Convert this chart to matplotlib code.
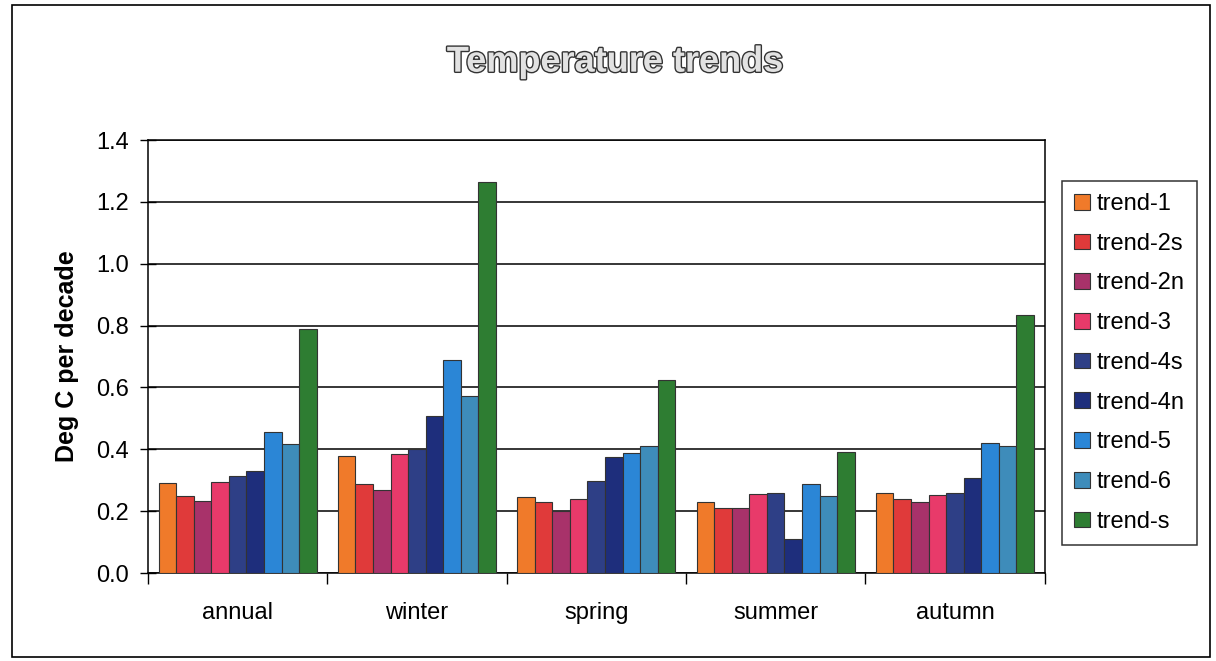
import matplotlib
matplotlib.use("Agg")
import matplotlib.pyplot as plt
import matplotlib.patheffects as pe
from matplotlib.patches import Rectangle
import numpy as np

plt.rcParams['font.family'] = ['Liberation Sans', 'DejaVu Sans']

seasons = ["annual", "winter", "spring", "summer", "autumn"]
trends = ["trend-1", "trend-2s", "trend-2n", "trend-3", "trend-4s",
          "trend-4n", "trend-5", "trend-6", "trend-s"]
colors = ["#F07A2A", "#E03A3A", "#A8326A", "#E83A6A", "#2E3F86",
          "#1E2E7C", "#2B86D6", "#3E8CBA", "#2E7D32"]

# deg C per decade, one row per trend, columns follow seasons
trend_1 = [0.29, 0.38, 0.245, 0.23, 0.26]
trend_2s = [0.25, 0.287, 0.23, 0.211, 0.241]
trend_2n = [0.234, 0.268, 0.20, 0.211, 0.23]
trend_3 = [0.293, 0.385, 0.238, 0.256, 0.253]
trend_4s = [0.315, 0.40, 0.297, 0.26, 0.259]
trend_4n = [0.331, 0.508, 0.374, 0.111, 0.307]
trend_5 = [0.457, 0.688, 0.389, 0.289, 0.419]
trend_6 = [0.417, 0.572, 0.412, 0.249, 0.41]
trend_s = [0.788, 1.264, 0.623, 0.392, 0.834]
values = [trend_1, trend_2s, trend_2n, trend_3, trend_4s,
          trend_4n, trend_5, trend_6, trend_s]

fig = plt.figure(figsize=(12.16, 6.61), dpi=100)
ax = fig.add_axes([0.1217, 0.1331, 0.7373, 0.6549])

x = np.arange(len(seasons))
w = 0.098
for i, (name, vals) in enumerate(zip(trends, values)):
    ax.bar(x + (i - 4) * w, vals, w, color=colors[i], edgecolor="#333333",
           linewidth=0.8, label=name, zorder=3)

ax.set_xlim(-0.5, 4.5)
ax.set_ylim(0, 1.4)
ax.set_yticks(np.arange(0, 1.41, 0.2))
ax.set_yticklabels([f"{v:.1f}" for v in np.arange(0, 1.41, 0.2)])
ax.yaxis.grid(True, color="black", linewidth=1.1, zorder=0)
ax.tick_params(axis="y", direction="inout", length=12, width=1,
               labelsize=17, pad=8)

# category ticks sit between the groups, names centred under them
ax.set_xticks(np.arange(-0.5, 4.6, 1.0))
ax.set_xticklabels([])
ax.tick_params(axis="x", which="major", direction="out", length=8, width=1)
ax.set_xticks(x, minor=True)
ax.set_xticklabels(seasons, minor=True)
ax.tick_params(axis="x", which="minor", length=0, labelsize=17, pad=21)

for s in ax.spines.values():
    s.set_color("black")
    s.set_linewidth(1.1)

ax.set_ylabel("Deg C per decade", fontsize=18, fontweight="bold", labelpad=12)

fig.text(0.506, 0.906, "Temperature trends", ha="center", va="center",
         fontsize=26, fontweight="bold", color="#e2e2e2",
         path_effects=[pe.withStroke(linewidth=2.0, foreground="#333333")])

leg = ax.legend(loc="upper left", bbox_to_anchor=(1.02, 0.905), fontsize=17,
                frameon=True, fancybox=False, edgecolor="black",
                handlelength=0.65, handleheight=0.65, handletextpad=0.3,
                labelspacing=0.75, borderpad=0.5, borderaxespad=0)
leg.get_frame().set_linewidth(1.1)

fig.patches.append(Rectangle((0.0099, 0.006), 0.985, 0.986, fill=False,
                             edgecolor="black", linewidth=1.2,
                             transform=fig.transFigure))

fig.savefig("out.png", dpi=100)
